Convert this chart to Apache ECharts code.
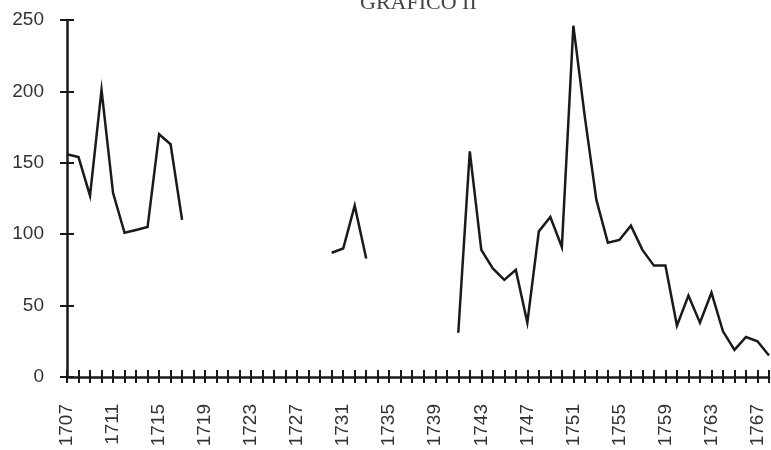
<!DOCTYPE html>
<html>
<head>
<meta charset="utf-8">
<script src="https://cdn.jsdelivr.net/npm/echarts@6/dist/echarts.min.js"></script>
<style>
html,body{margin:0;padding:0;background:#fff;}
#c{width:771px;height:450px;}
</style>
</head>
<body>
<div id="c"></div>
<script>
var titleText = 'GRAFICO II';
var years = [];
for (var y = 1707; y <= 1768; y++) years.push(String(y));

// values (null = no data)
var seg1 = [156, 154, 127, 201, 129, 101, 103, 105, 170, 163, 110]; // 1707-1717
var gap1 = [null, null, null, null, null, null, null, null, null, null, null, null]; // 1718-1729
var seg2 = [87, 90, 120, 83]; // 1730-1733
var gap2 = [null, null, null, null, null, null, null]; // 1734-1740
var seg3 = [31, 158, 89, 76, 68, 75, 38, 102, 112, 91, 246, 182, 124, 94, 96, 106, 89, 78, 78, 36, 57, 38, 59, 32, 19, 28, 25, 15]; // 1741-1768
var values = seg1.concat(gap1, seg2, gap2, seg3);

var yTicks = [0, 50, 100, 150, 200, 250];

var chart = echarts.init(document.getElementById('c'));
var axisColor = '#1a1a1a';
var labelFont = {color: '#333', fontSize: 19, fontFamily: 'Liberation Sans, Arial, sans-serif'};

chart.setOption({
  animation: false,
  backgroundColor: '#fff',
  title: {
    text: titleText, left: 355, top: -13,
    textStyle: {fontFamily: 'Liberation Serif, Times New Roman, serif', fontWeight: 'normal', fontSize: 22, color: '#444'}
  },
  grid: {left: 67, right: 2, top: 20, bottom: 73, containLabel: false},
  xAxis: [
    {
      type: 'category', data: years, boundaryGap: false, position: 'bottom',
      axisLine: {lineStyle: {color: axisColor, width: 2.5}},
      axisTick: {show: true, interval: 0, length: 6, inside: false, lineStyle: {color: axisColor, width: 2}},
      axisLabel: Object.assign({interval: 3, rotate: 90, margin: 27}, labelFont),
      splitLine: {show: false}
    },
    {
      type: 'category', data: years, boundaryGap: false, position: 'bottom',
      axisLine: {show: false},
      axisTick: {show: true, interval: 0, length: 7, inside: true, lineStyle: {color: axisColor, width: 2}},
      axisLabel: {show: false},
      splitLine: {show: false}
    }
  ],
  yAxis: [
    {
      type: 'value', min: 0, max: 250, interval: 50, position: 'left',
      axisLine: {show: true, lineStyle: {color: axisColor, width: 2.5}},
      axisTick: {show: true, length: 7, inside: false, lineStyle: {color: axisColor, width: 2}},
      axisLabel: Object.assign({margin: 23, formatter: function (v) { return yTicks.indexOf(v) >= 0 ? String(v) : ''; }}, labelFont),
      splitLine: {show: false}
    },
    {
      type: 'value', min: 0, max: 250, interval: 50, position: 'left',
      axisLine: {show: false},
      axisTick: {show: true, length: 7, inside: true, lineStyle: {color: axisColor, width: 2}},
      axisLabel: {show: false},
      splitLine: {show: false}
    }
  ],
  series: [{
    type: 'line', data: values, xAxisIndex: 0, yAxisIndex: 0,
    connectNulls: false, showSymbol: false, symbol: 'none',
    lineStyle: {color: '#1a1a1a', width: 2.5, join: 'miter'}
  }]
});
</script>
</body>
</html>
